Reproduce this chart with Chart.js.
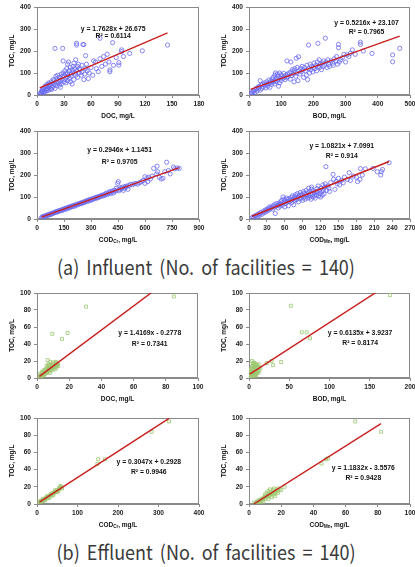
<!DOCTYPE html>
<html><head><meta charset="utf-8">
<script src="https://cdn.jsdelivr.net/npm/chart.js@4.4.0/dist/chart.umd.min.js"></script>
<style>
html,body{margin:0;padding:0;background:#fff;width:415px;height:567px;overflow:hidden;position:relative;}
canvas{position:absolute;}
.cap{position:absolute;left:0;width:412px;text-align:center;font-family:"Noto Sans CJK KR","Noto Sans",sans-serif;font-size:18px;line-height:24px;color:#3a3a3a;white-space:nowrap;word-spacing:3px;transform:scaleY(1.12);}
</style></head><body>
<div class="cap" style="top:254px">(a) Influent (No. of facilities = 140)</div>
<div class="cap" style="top:539px">(b) Effluent (No. of facilities = 140)</div>
<script>
// ---------- DATA ----------
const influentDOC = [[3,5],[4,8],[5,12],[5,3],[6,15],[6,22],[7,10],[8,18],[8,28],[9,14],[10,25],[10,35],[11,20],[12,30],[12,42],[13,22],[14,38],[14,50],[15,28],[15,45],[16,60],[17,35],[18,52],[18,40],[19,65],[20,48],[20,30],[21,58],[22,75],[22,42],[23,90],[24,55],[24,68],[25,80],[25,45],[26,62],[27,95],[27,50],[28,72],[28,85],[29,100],[29,155],[30,60],[30,88],[31,70],[31,110],[32,95],[32,55],[33,80],[33,120],[34,100],[34,65],[35,90],[35,150],[36,110],[36,75],[37,125],[38,95],[38,85],[39,115],[40,105],[40,130],[41,70],[41,145],[42,100],[42,120],[43,160],[43,90],[44,235],[44,227],[44,110],[45,130],[45,80],[46,140],[47,100],[47,120],[48,115],[49,90],[50,135],[50,105],[51,230],[52,229],[52,70],[53,95],[54,179],[54,120],[55,140],[56,110],[57,75],[58,100],[60,125],[62,90],[63,155],[65,150],[66,120],[68,106],[70,258],[70,165],[72,130],[74,175],[76,140],[78,185],[80,150],[81,114],[81,106],[84,238],[85,135],[88,170],[91,136],[91,147],[94,205],[94,197],[96,175],[103,189],[117,201],[145,227],[20,212],[28.5,212],[5,18],[7,30],[9,40],[11,48],[13,55],[16,25],[18,70],[21,85],[26,35],[34,140],[37,60],[39,50]];
const influentBOD = [[5,5],[8,10],[10,8],[12,15],[15,20],[18,12],[20,25],[22,30],[25,18],[28,35],[30,28],[32,40],[35,65],[35,22],[38,45],[40,30],[42,50],[45,38],[48,55],[50,45],[52,32],[55,60],[55,48],[58,40],[60,52],[62,68],[65,55],[65,35],[68,62],[70,48],[72,72],[75,58],[75,80],[78,65],[80,90],[80,50],[82,100],[85,75],[85,60],[88,95],[90,70],[90,85],[92,40],[95,100],[95,55],[98,78],[100,92],[100,65],[102,88],[105,75],[108,98],[110,82],[112,70],[115,90],[118,155],[118,78],[120,95],[122,85],[125,100],[128,72],[130,105],[130,150],[132,88],[135,115],[138,95],[140,60],[140,110],[142,120],[145,85],[147,167],[148,100],[150,125],[152,65],[154,174],[155,110],[158,95],[160,120],[162,105],[165,130],[168,115],[170,80],[172,125],[175,110],[178,90],[180,135],[182,70],[185,227],[185,120],[188,100],[190,140],[192,115],[195,130],[198,105],[200,125],[202,145],[205,120],[208,135],[210,110],[212,150],[214,235],[215,130],[218,160],[220,125],[222,140],[225,115],[228,145],[230,130],[232,155],[235,135],[237,258],[240,150],[242,125],[245,160],[248,140],[250,130],[255,155],[260,145],[262,135],[265,165],[270,155],[272,175],[275,140],[278,230],[278,215],[280,150],[285,160],[290,170],[295,185],[300,150],[304,182],[310,175],[315,190],[321,205],[330,185],[346,240],[346,230],[355,200],[382,189],[446,182],[446,151],[468,212]];
const influentCODCr = [[25,6],[30,10],[35,8],[40,13],[45,12],[50,16],[55,15],[60,19],[65,18],[70,22],[75,20],[80,25],[85,24],[90,28],[95,27],[100,30],[105,33],[110,31],[115,36],[120,34],[125,38],[130,40],[135,37],[140,43],[145,41],[150,45],[155,48],[160,44],[165,50],[170,52],[175,49],[180,55],[185,53],[190,58],[195,56],[200,60],[205,62],[210,58],[215,65],[220,63],[225,68],[230,66],[235,70],[240,72],[245,69],[250,75],[255,73],[260,78],[265,76],[270,80],[275,83],[280,79],[285,85],[290,88],[295,84],[300,90],[305,87],[310,93],[315,91],[320,95],[325,98],[330,94],[335,100],[340,97],[345,103],[350,101],[355,105],[360,108],[365,104],[370,110],[375,107],[380,113],[385,118],[390,110],[395,116],[400,120],[405,125],[410,115],[415,122],[420,128],[425,118],[430,130],[435,126],[440,140],[445,132],[448,162],[452,170],[455,128],[460,135],[465,142],[470,138],[475,145],[480,130],[485,140],[490,148],[495,144],[500,150],[505,135],[510,152],[520,158],[530,155],[540,160],[550,162],[560,158],[570,165],[580,170],[590,175],[600,192],[600,162],[610,185],[615,170],[620,190],[630,182],[640,195],[648,230],[667,240],[665,205],[670,215],[680,190],[690,182],[700,185],[710,215],[720,258],[730,220],[740,205],[758,236],[765,228],[780,232],[790,230]];
const influentCODMn = [[5,5],[7,10],[8,3],[10,15],[12,8],[14,20],[15,12],[17,25],[18,18],[20,30],[22,22],[24,35],[25,28],[27,40],[28,32],[30,45],[31,38],[33,50],[34,42],[35,55],[36,48],[38,52],[40,60],[40,45],[42,55],[43,65],[44,25],[45,58],[46,70],[48,62],[49,50],[50,72],[51,66],[52,58],[53,78],[54,68],[55,85],[56,62],[57,100],[58,75],[59,90],[60,55],[61,82],[62,70],[63,95],[64,78],[65,88],[66,60],[67,92],[68,80],[70,85],[71,98],[72,75],[73,105],[74,90],[75,65],[76,100],[77,85],[78,110],[79,95],[80,88],[81,115],[82,100],[83,78],[84,108],[85,92],[86,120],[87,105],[88,95],[89,112],[90,85],[91,125],[92,100],[93,118],[94,90],[95,110],[96,130],[97,105],[98,95],[99,120],[100,140],[100,108],[101,98],[102,125],[103,115],[104,90],[105,135],[105,145],[106,112],[107,100],[108,128],[109,118],[110,105],[111,95],[112,125],[113,110],[114,138],[115,120],[116,150],[117,105],[118,130],[119,115],[120,100],[121,140],[122,125],[123,108],[124,155],[125,130],[126,115],[127,145],[128,160],[129,238],[130,130],[132,150],[134,140],[135,125],[137,165],[141,203],[142,180],[144,135],[146,170],[148,160],[150,185],[152,155],[155,175],[158,165],[160,190],[165,180],[168,210],[170,175],[175,195],[180,190],[182,170],[187,229],[186,180],[190,200],[195,228],[208,230],[215,215],[221,200],[222,215],[224,225],[235,256]];
const effluentDOC = [[85,96],[30.5,84],[9.5,52],[19,53],[15.5,46],[1.5,1],[2,2],[2,3],[2.5,1.5],[3,4],[3,2],[3.5,5],[4,3],[4,6],[4.5,4],[5,7],[5,5],[5.5,8],[6,6],[6,10],[6.5,7],[6.6,21],[7,9],[7,12],[7.5,8],[8,11],[8,14],[8.4,19],[8.5,10],[9,13],[9,16],[9.5,12],[10,15],[10,18],[10.5,13],[11,16],[11,10],[11.5,14],[12,17],[12,12],[12.5,15],[13,14],[5,10],[6,14],[7,16],[4,9],[3,7],[2,5],[8,6],[9,9],[10,11],[11.5,19],[12.5,18],[13,16],[6.5,12],[7.5,15]];
const effluentBOD = [[175,97.6],[52,85],[65.5,53.7],[71.7,53.7],[75.8,46.7],[22,17.6],[28,20],[30,15],[40,18.8],[1,2],[1.5,4],[2,1],[2,6],[2.5,3],[3,8],[3,5],[3.5,12],[4,2],[4,10],[4.5,7],[5,15],[5,4],[5.5,9],[6,13],[6,6],[6.5,18],[7,11],[7,3],[7.5,8],[8,14],[8,5],[8.5,10],[9,16],[9,7],[9.5,12],[10,9],[10,15],[11,6],[11,13],[12,10],[12,16],[3.5,20],[5,18],[2.5,10],[6,3],[8,4],[10,6],[13,8],[14,12],[4,14],[7,17],[9,3]];
const effluentCODCr = [[326,96],[283,84],[151,52],[149,46.5],[168,52],[6,2],[8,3],[10,2.5],[12,4],[14,3.5],[16,5],[18,5],[20,6],[22,7],[24,6.5],[26,8],[28,9],[30,8.5],[32,10],[34,11],[36,10],[38,12],[40,12.5],[42,13],[44,14],[46,13.5],[48,15],[50,16],[52,15],[54,17],[56,18],[58,19],[60,20],[15,6],[25,9],[35,12],[45,16],[55,19],[20,4],[30,7],[40,10],[50,14],[10,4],[62,18],[58,21]];
const effluentCODMn = [[66,96],[82,84],[45,47],[48,52],[49,53],[3,1],[4,0.5],[4.5,2],[5,3],[5.5,1.5],[6,4],[6.5,3],[7,5],[7.5,4],[8,6],[8.5,5],[9,7],[9.5,8],[10,6],[10.5,9],[11,8],[11.5,10],[12,9],[12,15],[12.5,11],[13,10],[13,17],[13.5,12],[14,14],[14,8],[14.5,13],[15,16],[15,11],[15.5,18],[16,14],[16.5,12],[17,16],[17.5,15],[18,13],[18,18],[19,17],[20,16],[22,20],[11,13],[10,11],[9,3],[7,2],[12,6],[16,9]];

const xTitles = [['DOC','',', mg/L'],['BOD','',', mg/L'],['COD','Cr',', mg/L'],['COD','Mn',', mg/L'],['DOC','',', mg/L'],['BOD','',', mg/L'],['COD','Cr',', mg/L'],['COD','Mn',', mg/L']];
const yTitle = 'TOC, mg/L';
const slopes = [1.7628, 0.5216, 0.2946, 1.0821, 1.4169, 0.6135, 0.3047, 1.1832];
const intercepts = [26.675, 23.107, 1.1451, 7.0991, -0.2778, 3.9237, 0.2928, -3.5576];
const equations = ['y = 1.7628x + 26.675','y = 0.5216x + 23.107','y = 0.2946x + 1.1451','y = 1.0821x + 7.0991','y = 1.4169x - 0.2778','y = 0.6135x + 3.9237','y = 0.3047x + 0.2928','y = 1.1832x - 3.5576'];
const r2Labels = ['R² = 0.6114','R² = 0.7965','R² = 0.9705','R² = 0.914','R² = 0.7341','R² = 0.8174','R² = 0.9946','R² = 0.9428'];
const xMax = [180, 500, 900, 270, 100, 200, 400, 100];
const xStep = [30, 100, 150, 30, 20, 50, 100, 20];
const yMax = [400, 400, 400, 400, 100, 100, 100, 100];
const yStep = [100, 100, 100, 100, 20, 20, 20, 20];

// ---------- LAYOUT ----------
const seriesList = [influentDOC, influentBOD, influentCODCr, influentCODMn, effluentDOC, effluentBOD, effluentCODCr, effluentCODMn];
const plotRects = [[37,7,199,95],[249,7,410,95],[37,131,199,219],[249,131,410,219],[37,293,198,378],[249,293,410,378],[37,418,199,504],[249,418,410,504]];
const eqPos = [[0.47,0.25,0.33],[0.73,0.185,0.29],[0.51,0.22,0.35],[0.576,0.167,0.29],[0.70,0.47,0.60],[0.69,0.47,0.59],[0.69,0.515,0.63],[0.71,0.585,0.70]];
const FONT = '"Liberation Sans", Arial, sans-serif';
const YW = 37, XH = 30, PT = 7, PR = 10;

const framePlugin = {
  id: 'frame',
  beforeDatasetsDraw(chart) {
    const a = chart.chartArea, c = chart.ctx;
    c.save(); c.strokeStyle = '#8a8a8a'; c.lineWidth = 1;
    c.strokeRect(Math.round(a.left) + 0.5, Math.round(a.top) + 0.5, Math.round(a.right - a.left) - 1, Math.round(a.bottom - a.top) - 1);
    c.restore();
  },
  afterDraw(chart) {
    const o = chart.options.plugins.frame, a = chart.chartArea, c = chart.ctx;
    const w = a.right - a.left, h = a.bottom - a.top;
    c.save();
    c.fillStyle = '#111'; c.textBaseline = 'middle'; c.textAlign = 'center';
    c.font = 'bold 6.8px ' + FONT;
    const cx = a.left + o.pos[0] * w;
    c.fillText(o.eq, cx, a.top + o.pos[1] * h);
    c.fillText(o.r2, cx, a.top + o.pos[2] * h);
    // y title
    c.font = 'bold 6.5px ' + FONT;
    c.save(); c.translate(a.left - 25, (a.top + a.bottom) / 2); c.rotate(-Math.PI / 2);
    c.fillText(yTitle, 0, 0); c.restore();
    // x title with subscript
    const [m, s, r] = o.xt;
    const fm = 'bold 6.5px ' + FONT, fs = 'bold 4.5px ' + FONT;
    c.font = fm; const wm = c.measureText(m).width, wr = c.measureText(r).width;
    c.font = fs; const ws = s ? c.measureText(s).width : 0;
    let x = (a.left + a.right) / 2 - (wm + ws + wr) / 2;
    const y = a.bottom + 21;
    c.textAlign = 'left';
    c.font = fm; c.fillText(m, x, y); x += wm;
    if (s) { c.font = fs; c.fillText(s, x, y + 2); x += ws; }
    c.font = fm; c.fillText(r, x, y);
    c.restore();
  }
};

seriesList.forEach((pts, i) => {
  const [L, T, R, B] = plotRects[i];
  const cv = document.createElement('canvas');
  const W = R - L + YW + PR, H = B - T + PT + XH;
  cv.width = W; cv.height = H;
  cv.style.left = (L - YW) + 'px'; cv.style.top = (T - PT) + 'px';
  cv.style.width = W + 'px'; cv.style.height = H + 'px';
  document.body.appendChild(cv);
  const influent = i < 4;
  const xs = pts.map(p => p[0]);
  const x0 = Math.min(...xs), x1 = Math.max(...xs);
  const fit = [x0, x1].map(x => ({x, y: slopes[i] * x + intercepts[i]}));
  const tickFont = {size: 6.6, weight: 'bold', family: FONT};
  const gridCfg = {display: true, drawOnChartArea: false, drawTicks: true, tickLength: 3, color: '#8a8a8a'};
  new Chart(cv, {
    type: 'scatter',
    data: {datasets: [
      {type: 'line', data: fit, borderColor: '#c8201e', borderWidth: 1.4, pointRadius: 0, fill: false},
      {data: pts.map(p => ({x: p[0], y: p[1]})),
       pointStyle: influent ? 'circle' : 'rect',
       pointRadius: influent ? 2.1 : 2.1,
       borderWidth: 0.8,
       borderColor: influent ? '#6a6af2' : '#9cc670',
       backgroundColor: 'rgba(0,0,0,0)'}
    ]},
    options: {
      responsive: false, animation: false, devicePixelRatio: 1,
      layout: {padding: {top: PT, right: PR, left: 0, bottom: 0}},
      plugins: {legend: {display: false}, tooltip: {enabled: false},
        frame: {eq: equations[i], r2: r2Labels[i], pos: eqPos[i], xt: xTitles[i]}},
      scales: {
        x: {type: 'linear', min: 0, max: xMax[i],
          ticks: {stepSize: xStep[i], padding: 2, font: tickFont, color: '#222', maxRotation: 0, autoSkip: false},
          grid: gridCfg, border: {display: true, color: '#8a8a8a'},
          afterFit(s) { s.height = XH; s.paddingLeft = 0; s.paddingRight = 0; }},
        y: {type: 'linear', min: 0, max: yMax[i],
          ticks: {stepSize: yStep[i], padding: 3, font: tickFont, color: '#222', autoSkip: false},
          grid: gridCfg, border: {display: true, color: '#8a8a8a'},
          afterFit(s) { s.width = YW; s.paddingTop = 0; s.paddingBottom = 0; }}
      }
    },
    plugins: [framePlugin]
  });
});
</script>
</body></html>
